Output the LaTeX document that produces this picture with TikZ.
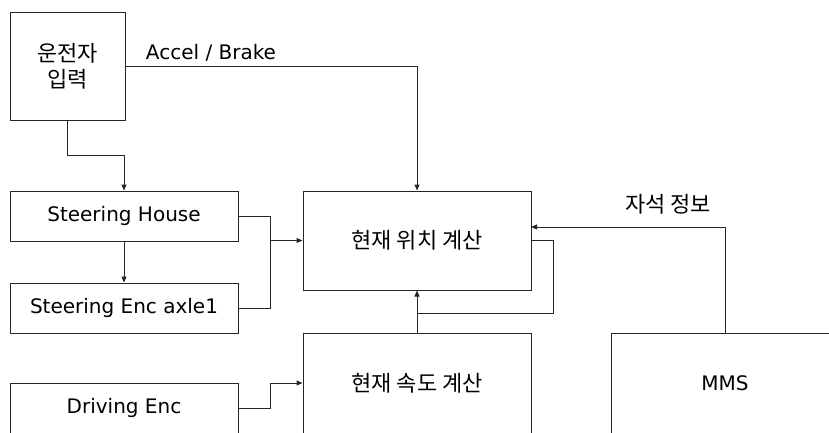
\documentclass[tikz,border=0pt]{standalone}
\usepackage{fontspec}
\setmainfont{DejaVu Sans}
\newfontfamily\kr{Noto Sans CJK KR}
\usetikzlibrary{arrows.meta}
\begin{document}
\begin{tikzpicture}[x=1pt,y=-1pt,
 box/.style={draw=black!85,line width=1pt,inner sep=0pt,minimum width=228pt,minimum height=50pt,font=\fontsize{20}{24}\selectfont},
 krf/.style={font=\kr\fontsize{22}{26}\selectfont},
 conn/.style={draw=black!85,line width=1pt},
 arr/.style={conn,-{Triangle[length=6pt,width=5pt]}}]
\useasboundingbox (0,0) rectangle (829,432);
\clip (0,0) rectangle (829,432);
\node[box,krf,minimum width=115pt,minimum height=108pt,align=center] (drv) at (67.5,66) {운전자\\입력};
\node[box] (sh) at (124,216) {Steering House};
\node[box] (se) at (124,308) {Steering Enc axle1};
\node[box] (de) at (124,408) {Driving Enc};
\node[box,krf,minimum height=99pt] (pos) at (417,240.5) {현재 위치 계산};
\node[box,krf,minimum height=100pt] (spd) at (417,383) {현재 속도 계산};
\node[box,minimum height=100pt] (mms) at (725,383) {MMS};
\node[font=\fontsize{20}{24}\selectfont] (ab) at (211,53) {Accel / Brake};
\node[krf] (mag) at (668,204) {자석 정보};
\coordinate (c1) at (67.5,155);
\coordinate (j1) at (270,240.5);
\coordinate (m1) at (531,227);
\coordinate (fb) at (417,313);
\draw[arr] (drv.east) -| (pos.north);
\draw[arr] (drv.south) -- (c1) -| (sh.north);
\draw[arr] (sh.south) -- (se.north);
\draw[conn] (sh.east) -- (270,216) -- (270,308) -- (se.east);
\draw[arr] (j1) -- (pos.west);
\draw[arr] (mms.north) |- (m1);
\draw[conn] (pos.east) -- (553,240.5) |- (fb);
\draw[arr] (spd.north) -- (pos.south);
\draw[arr] (de.east) -- (270,408) |- (spd.west);
\end{tikzpicture}
\end{document}
